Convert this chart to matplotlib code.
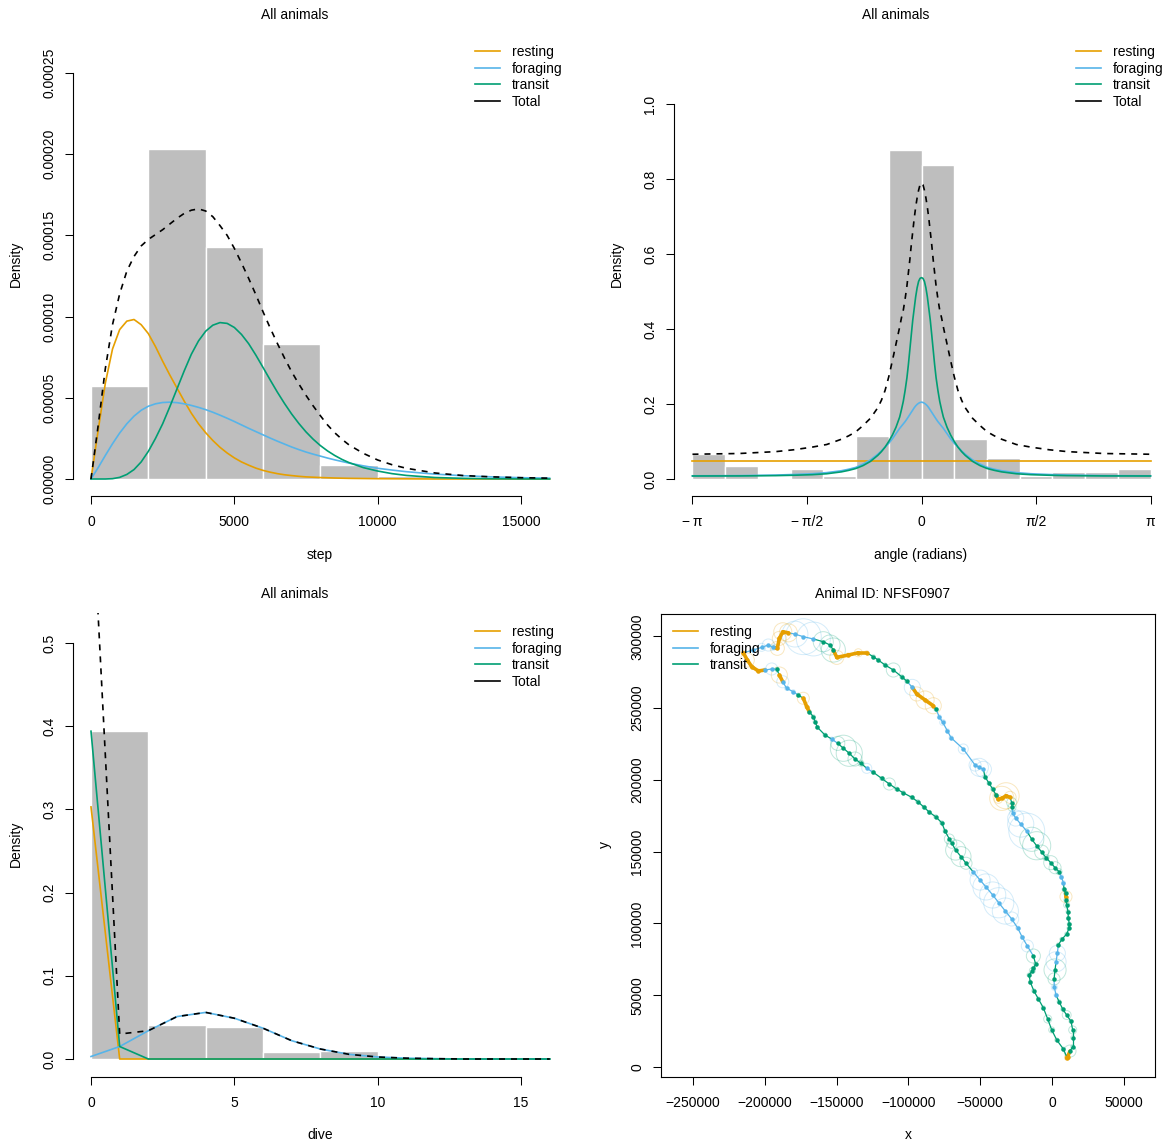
import numpy as np
import matplotlib
matplotlib.use("Agg")
import matplotlib.pyplot as plt
from matplotlib.lines import Line2D
from matplotlib.patches import Circle

plt.rcParams['font.family'] = ['Liberation Sans', 'DejaVu Sans']
plt.rcParams['font.size'] = 10

W, H = 1167, 1144
RESTING, FORAGING, TRANSIT = '#E69F00', '#56B4E9', '#009E73'
state_cols = {1: RESTING, 2: FORAGING, 3: TRANSIT}

# step panel, densities in 1e-5
step_x = [0, 250, 500, 750, 1000, 1250, 1500, 1750, 2000, 2250, 2500, 2750, 3000, 3250, 3500, 3750,
          4000, 4250, 4500, 4750, 5000, 5250, 5500, 5750, 6000, 6250, 6500, 6750, 7000, 7250, 7500, 7750,
          8000, 8250, 8500, 8750, 9000, 9500, 10000, 10500, 11000, 12000, 13000, 14000, 15000, 16000]
step_rest = [0, 3.0, 5.9, 8.0, 9.2, 9.72, 9.82, 9.5, 8.95, 8.15, 7.25, 6.4, 5.6, 4.8, 4.05, 3.4,
             2.85, 2.37, 1.95, 1.6, 1.3, 1.05, 0.85, 0.67, 0.53, 0.42, 0.33, 0.26, 0.21, 0.165, 0.13, 0.11,
             0.09, 0.075, 0.06, 0.05, 0.04, 0.03, 0.02, 0.015, 0.01, 0, 0, 0, 0, 0]
step_forage = [0, 0.7, 1.45, 2.17, 2.83, 3.4, 3.87, 4.23, 4.48, 4.63, 4.71, 4.73, 4.7, 4.63, 4.53, 4.41,
               4.27, 4.11, 3.93, 3.74, 3.54, 3.33, 3.12, 2.92, 2.72, 2.52, 2.33, 2.15, 1.97, 1.81, 1.66, 1.53,
               1.41, 1.29, 1.18, 1.08, 0.98, 0.81, 0.66, 0.55, 0.45, 0.3, 0.2, 0.13, 0.08, 0.05]
step_transit = [0, 0, 0, 0.02, 0.1, 0.28, 0.58, 1.05, 1.7, 2.5, 3.4, 4.45, 5.55, 6.65, 7.68, 8.5,
                9.1, 9.47, 9.63, 9.58, 9.33, 8.9, 8.33, 7.63, 6.87, 6.1, 5.35, 4.65, 4.0, 3.42, 2.9, 2.45,
                2.06, 1.73, 1.45, 1.21, 1.01, 0.7, 0.49, 0.33, 0.22, 0.09, 0.04, 0.015, 0.005, 0]
step_total = [0, 3.3, 6.8, 9.5, 11.4, 12.8, 13.7, 14.35, 14.75, 15.05, 15.35, 15.7, 16.05, 16.35, 16.55, 16.63,
              16.5, 16.15, 15.6, 15.0, 14.2, 13.3, 12.35, 11.35, 10.3, 9.3, 8.35, 7.45, 6.6, 5.85, 5.15, 4.5,
              3.9, 3.33, 2.85, 2.45, 2.1, 1.58, 1.17, 0.88, 0.66, 0.37, 0.21, 0.13, 0.08, 0.05]
step_edges = [0, 2000, 4000, 6000, 8000, 10000, 12000, 14000, 16000]
step_hist = [5.7, 20.3, 14.3, 8.32, 0.86, 0.18, 0.07, 0.12]

# angle panel, curves read on the positive half (they are symmetric about 0)
angle_half = [0, .02, .04, .06, .08, .1, .12, .14, .16, .18, .2, .225, .25, .275, .3, .35,
              .4, .45, .5, .55, .6, .7, .8, .9, 1.0, 1.1, 1.3, 1.5, 1.75, 2.0, 2.5, np.pi]
angle_rest = [.048] * 32
angle_forage = [.205, .204, .202, .199, .195, .19, .184, .178, .172, .166, .16, .153, .147, .141, .135, .121,
                .107, .095, .085, .075, .066, .051, .04, .031, .026, .022, .017, .014, .012, .0105, .009, .0085]
angle_transit = [.537, .535, .527, .51, .486, .455, .424, .385, .345, .305, .27, .236, .207, .185, .165, .138,
                 .117, .1, .085, .073, .063, .047, .036, .028, .023, .019, .014, .0115, .01, .009, .0082, .008]
angle_total = [.79, .785, .77, .75, .725, .695, .66, .625, .585, .55, .515, .48, .45, .43, .405, .36,
               .315, .272, .236, .21, .19, .162, .143, .126, .115, .106, .092, .085, .078, .073, .068, .066]
angle_hist = [.066, .036, 0, .027, .007, .116, .877, .836, .107, .057, .009, .018, .018, .027]

# dive panel
dive_x = list(range(17))
dive_rest = [.303, 0, 0, 0, 0, 0, 0, 0, 0, 0, 0, 0, 0, 0, 0, 0, 0]
dive_forage = [.003, .015, .034, .051, .056, .049, .037, .022, .012, .0056, .0024, .001, .0004, 0, 0, 0, 0]
dive_transit = [.394, .015, 0, 0, 0, 0, 0, 0, 0, 0, 0, 0, 0, 0, 0, 0, 0]
dive_total = [.70, .03, .034, .051, .056, .049, .037, .022, .012, .0056, .0024, .001, .0004, 0, 0, 0, 0]
dive_edges = [0, 2, 4, 6, 8, 10, 12, 14, 16]
dive_hist = [.394, .041, .038, .008, .01, .0006, 0, 0]

# track for NFSF0907, x and y and error radius in km, state 1 resting 2 foraging 3 transit
track_x = [10.2, 10.9, 12.5, 14.4, 14.4, 14.4, 13.2, 10.2, 7.5, 4.9, 2.8, 1.6, 1.4, 2.1, 2.8, 3.7, 4.4, 6.8, 10.2, 11.8,
           12.0, 11.4, 11.1, 10.2, 9.7, 9.7, 9.5, 8.4, 7.9, 6.5, 4.9, 2.1, -0.9, -4.2, -7.2, -10.7, -14.1, -17.6, -21.8, -25.3,
           -27.4, -27.9, -28.1, -29.2, -32.0, -35.0, -37.4, -39.0, -41.3, -43.9, -46.7, -47.8, -50.6, -53.6, -61.8, -70.3, -72.9, -76.1, -78.5, -80.8,
           -82.7, -88.4, -94.2, -97.3, -101.2, -104.7, -110.5, -116.3, -121.0, -124.4, -129.0, -134.9, -141.9, -149.9, -152.3, -154.6, -159.3, -166.2, -173.2, -179.0,
           -183.6, -187.5, -189.9, -191.3, -194.1, -197.6, -202.2, -208.0, -215.0, -212.2, -209.1, -204.5, -199.9, -195.2, -191.7, -189.9, -187.5, -184.8, -180.2, -176.7,
           -173.2, -170.8, -169.0, -166.2, -165.0, -163.4, -158.1, -153.4, -149.2, -145.3, -141.2, -137.2, -133.0, -129.0, -124.4, -118.6, -113.3, -108.2, -103.6, -97.7,
           -93.5, -89.1, -85.4, -81.0, -76.8, -74.5, -71.5, -69.8, -67.1, -63.4, -59.9, -54.8, -50.1, -46.0, -41.3, -37.1, -32.5, -28.1, -23.9, -20.7,
           -17.2, -13.0, -11.4, -13.0, -13.7, -16.0, -15.1, -12.7, -9.5, -6.1, -3.0, -0.2, 3.3, 7.9, 10.2]
track_y = [6.1, 7.2, 11.1, 14.1, 20.4, 25.8, 31.8, 36.2, 40.2, 45.5, 50.1, 55.5, 61.3, 67.6, 73.3, 79.2, 85.0, 88.9, 92.6, 96.6,
           99.6, 103.6, 108.2, 112.8, 116.3, 118.6, 121.0, 123.7, 128.3, 132.5, 136.0, 138.8, 142.3, 145.8, 149.7, 154.1, 158.6, 164.3, 169.2, 173.4,
           176.7, 180.9, 184.1, 187.8, 188.9, 187.1, 186.4, 189.4, 193.6, 197.6, 202.2, 207.3, 208.7, 210.3, 221.5, 229.3, 234.2, 240.0, 243.9, 249.1,
           251.6, 255.6, 259.8, 264.4, 268.8, 271.8, 276.5, 280.0, 283.4, 285.7, 288.5, 288.5, 286.9, 285.3, 290.4, 293.9, 296.2, 298.1, 299.7, 301.5,
           302.4, 303.1, 298.5, 291.6, 292.3, 293.9, 292.3, 290.4, 288.5, 283.4, 278.8, 275.8, 276.5, 277.2, 277.0, 273.0, 268.3, 263.7, 261.4, 259.0,
           256.8, 250.9, 247.4, 243.9, 240.5, 236.6, 231.2, 228.4, 225.4, 222.0, 218.5, 214.5, 211.5, 208.0, 205.2, 201.0, 197.1, 193.6, 191.0, 187.8,
           184.8, 180.9, 177.4, 174.3, 170.1, 164.3, 158.8, 155.8, 151.1, 146.5, 141.9, 135.8, 130.2, 125.4, 119.8, 114.4, 108.6, 103.1, 96.8, 90.3,
           84.3, 77.3, 71.7, 68.7, 67.1, 64.1, 59.0, 53.1, 47.4, 41.3, 33.4, 25.8, 18.8, 12.5, 7.2]
track_state = [1, 1, 3, 3, 3, 3, 3, 3, 3, 3, 2, 2, 3, 3, 2, 2, 3, 3, 3, 3,
               3, 3, 3, 3, 3, 1, 3, 3, 2, 2, 3, 3, 3, 3, 3, 3, 3, 2, 2, 2,
               2, 3, 3, 1, 1, 1, 1, 3, 3, 3, 3, 2, 2, 2, 2, 2, 2, 2, 2, 3,
               1, 1, 1, 2, 3, 3, 3, 3, 3, 3, 1, 1, 1, 1, 3, 3, 3, 2, 2, 2,
               1, 1, 1, 1, 2, 2, 2, 2, 1, 1, 1, 1, 2, 2, 3, 1, 2, 2, 2, 3,
               1, 1, 3, 3, 3, 3, 3, 2, 3, 3, 3, 3, 3, 2, 3, 3, 3, 3, 3, 3,
               3, 3, 3, 3, 3, 3, 3, 3, 3, 3, 3, 2, 2, 2, 2, 2, 2, 2, 2, 2,
               2, 3, 3, 3, 3, 3, 3, 3, 3, 3, 3, 3, 3, 3, 1]
track_err = [1.4, 1.4, 4.2, 1.4, 1.4, 2.8, 1.4, 3.1, 1.4, 1.4, 1.4, 2.1, 4.2, 7.7, 7.0, 5.6, 1.4, 1.4, 1.4, 1.4,
             1.4, 1.4, 1.4, 2.1, 1.4, 4.2, 1.4, 1.4, 1.4, 1.4, 2.1, 4.2, 4.9, 2.1, 4.9, 9.8, 8.4, 12.5, 9.1, 5.6,
             2.1, 2.8, 3.5, 4.2, 9.1, 8.4, 2.8, 1.4, 1.4, 1.4, 1.4, 5.6, 6.3, 4.2, 3.5, 1.4, 1.4, 2.1, 1.4, 1.4,
             5.6, 6.3, 4.9, 5.6, 1.4, 1.4, 4.9, 1.4, 1.4, 1.4, 1.4, 2.8, 1.4, 4.9, 8.4, 7.0, 7.0, 11.8, 12.5, 9.0,
             6.3, 6.3, 4.9, 4.9, 2.1, 4.2, 2.8, 1.4, 1.4, 4.9, 1.4, 1.4, 1.4, 4.2, 1.4, 5.6, 4.2, 1.4, 1.4, 1.4,
             4.2, 1.4, 1.4, 1.4, 1.4, 1.4, 1.4, 1.4, 4.9, 9.1, 9.1, 4.9, 2.1, 3.5, 1.4, 1.4, 4.2, 1.4, 1.4, 1.4,
             1.4, 1.4, 1.4, 1.4, 1.4, 1.4, 3.5, 3.5, 7.0, 7.0, 4.2, 2.8, 7.0, 9.1, 9.1, 10.5, 9.1, 4.9, 1.4, 1.4,
             4.2, 4.9, 1.4, 1.4, 2.1, 1.4, 1.4, 1.4, 1.4, 1.4, 2.8, 2.1, 1.4, 1.4, 1.4]


def px_axes(l, t, r, b):
    ax = fig.add_axes([l / W, 1 - b / H, (r - l) / W, (b - t) / H])
    ax.tick_params(length=6, width=0.75, labelsize=10)
    ax.tick_params(axis='x', pad=7.5)
    ax.tick_params(axis='y', pad=6.2)
    return ax


def axis_style(ax, xticks, xlabs, yticks, ylabs):
    ax.spines['top'].set_visible(False)
    ax.spines['right'].set_visible(False)
    ax.spines['left'].set_bounds(yticks[0], yticks[-1])
    ax.spines['bottom'].set_bounds(xticks[0], xticks[-1])
    ax.set_xticks(xticks, xlabs)
    ax.set_yticks(yticks, ylabs, rotation=90, va='center')


def add_legend(ax, x, y, total=True):
    names = ['resting', 'foraging', 'transit'] + (['Total'] if total else [])
    cols = [RESTING, FORAGING, TRANSIT] + (['black'] if total else [])
    handles = [Line2D([0], [0], color=c, lw=1.2) for c in cols]
    leg = ax.legend(handles, names, loc='upper left', bbox_to_anchor=(x / W, 1 - y / H),
                    bbox_transform=fig.transFigure, frameon=False, borderpad=0, borderaxespad=0,
                    handlelength=1.8, handletextpad=0.86, labelspacing=0.18, fontsize=10)
    leg.set_zorder(20)


def density_panel(ax, xs, rest, forage, transit, total, edges, hist):
    ax.bar(edges[:-1], hist, width=np.diff(edges), align='edge', color='#BEBEBE', edgecolor='white', linewidth=1)
    ax.plot(xs, rest, color=RESTING, lw=1.2)
    ax.plot(xs, forage, color=FORAGING, lw=1.2)
    ax.plot(xs, transit, color=TRANSIT, lw=1.2)
    ax.plot(xs, total, color='black', lw=1.2, linestyle=(0, (3.6, 3.6)))


def label(x, y, txt, rot=0):
    fig.text(x / W, 1 - y / H, txt, ha='center', va='center', rotation=rot, fontsize=10)


fig = plt.figure(figsize=(W / 100, H / 100), dpi=100)

# step
ax1 = px_axes(73, 33, 567, 496)
density_panel(ax1, step_x, np.array(step_rest) * 1e-5, np.array(step_forage) * 1e-5,
              np.array(step_transit) * 1e-5, np.array(step_total) * 1e-5, step_edges, np.array(step_hist) * 1e-5)
ax1.set_xlim(-628, 16605)
ax1.set_ylim(-1.047e-5, 27.46e-5)
axis_style(ax1, [0, 5000, 10000, 15000], ['0', '5000', '10000', '15000'],
           [0, 5e-5, 10e-5, 15e-5, 20e-5, 25e-5], ['0.00000', '0.00005', '0.00010', '0.00015', '0.00020', '0.00025'])
add_legend(ax1, 475, 45)
label(295, 15, 'All animals')
label(320, 555, 'step')
label(16, 264, 'Density', 90)

# angle
ax2 = px_axes(674, 33, 1168, 496)
half = np.array(angle_half)
angle_x = np.concatenate([-half[::-1], half[1:]])


def mirror(v):
    return v[::-1] + v[1:]


density_panel(ax2, angle_x, mirror(angle_rest), mirror(angle_forage), mirror(angle_transit), mirror(angle_total),
              np.linspace(-np.pi, np.pi, 15), angle_hist)
ax2.set_xlim(-3.395, 3.381)
ax2.set_ylim(-17 / 375, 446 / 375)
axis_style(ax2, [-np.pi, -np.pi / 2, 0, np.pi / 2, np.pi],
           ['\u2212\u2009\u03c0', '\u2212\u2009\u03c0/2', '0', '\u03c0/2', '\u03c0'],
           [0, .2, .4, .6, .8, 1.0], ['0.0', '0.2', '0.4', '0.6', '0.8', '1.0'])
add_legend(ax2, 1076, 45)
label(896, 15, 'All animals')
label(921, 555, 'angle (radians)')
label(617, 264, 'Density', 90)

# dive
ax3 = px_axes(73, 613, 567, 1077)
density_panel(ax3, dive_x, dive_rest, dive_forage, dive_transit, dive_total, dive_edges, dive_hist)
ax3.set_xlim(-0.628, 16.6)
ax3.set_ylim(-18 / 832, 446 / 832)
axis_style(ax3, [0, 5, 10, 15], ['0', '5', '10', '15'],
           [0, .1, .2, .3, .4, .5], ['0.0', '0.1', '0.2', '0.3', '0.4', '0.5'])
add_legend(ax3, 475, 625)
label(295, 594, 'All animals')
label(320, 1135, 'dive')
label(16, 844, 'Density', 90)

# track
ax4 = px_axes(661, 614, 1155, 1077)
tx = np.array(track_x) * 1000
ty = np.array(track_y) * 1000
for i in range(len(tx)):
    col = state_cols[track_state[i]]
    ax4.add_patch(Circle((tx[i], ty[i]), track_err[i] * 1000, fill=False, edgecolor=col, alpha=0.25, lw=0.7, zorder=1))
for i in range(len(tx) - 1):
    s = track_state[i]
    ax4.plot(tx[i:i + 2], ty[i:i + 2], color=state_cols[s], lw=2.6 if s == 1 else 0.9, solid_capstyle='round', zorder=2)
for s, col in state_cols.items():
    mask = np.array(track_state) == s
    ax4.plot(tx[mask], ty[mask], 'o', color=col, ms=3.2, mew=0, zorder=3)
ax4.set_xlim(-272300, 71700)
ax4.set_ylim(-6964, 315500)
ax4.set_xticks(np.arange(-250000, 50001, 50000))
ax4.set_xticklabels(['\u2212250000', '\u2212200000', '\u2212150000', '\u2212100000', '\u221250000', '0', '50000'])
ax4.set_yticks(np.arange(0, 300001, 50000))
ax4.set_yticklabels(['0', '50000', '100000', '150000', '200000', '250000', '300000'], rotation=90, va='center')
add_legend(ax4, 673, 625, total=False)
label(883, 594, 'Animal ID: NFSF0907')
label(908, 1135, 'x')
label(605, 845, 'y', 90)

fig.savefig('out.png', dpi=100)
